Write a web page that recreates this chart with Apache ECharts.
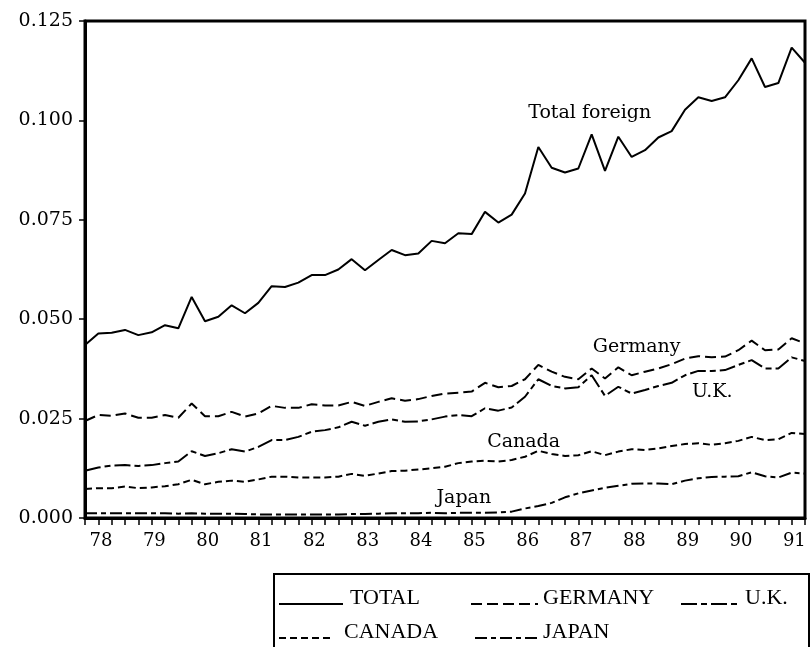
<!DOCTYPE html>
<html><head><meta charset="utf-8">
<script src="https://cdn.jsdelivr.net/npm/echarts@6/dist/echarts.min.js"></script>
<style>html,body{margin:0;padding:0;background:#fff}#c{width:811px;height:647px}</style>
</head><body><div id="c"></div>
<script>
const quarters = [
 '1978Q2','1978Q3','1978Q4',
 '1979Q1','1979Q2','1979Q3','1979Q4',
 '1980Q1','1980Q2','1980Q3','1980Q4',
 '1981Q1','1981Q2','1981Q3','1981Q4',
 '1982Q1','1982Q2','1982Q3','1982Q4',
 '1983Q1','1983Q2','1983Q3','1983Q4',
 '1984Q1','1984Q2','1984Q3','1984Q4',
 '1985Q1','1985Q2','1985Q3','1985Q4',
 '1986Q1','1986Q2','1986Q3','1986Q4',
 '1987Q1','1987Q2','1987Q3','1987Q4',
 '1988Q1','1988Q2','1988Q3','1988Q4',
 '1989Q1','1989Q2','1989Q3','1989Q4',
 '1990Q1','1990Q2','1990Q3','1990Q4',
 '1991Q1','1991Q2','1991Q3','1991Q4'
];
const total = [
 0.0435,0.0464,0.0466,0.0473,0.0460,0.0467,0.0485,0.0477,0.0556,0.0495,
 0.0506,0.0535,0.0515,0.0541,0.0583,0.0581,0.0592,0.0611,0.0611,0.0625,
 0.0651,0.0623,0.0649,0.0674,0.0661,0.0665,0.0697,0.0691,0.0716,0.0714,
 0.0770,0.0743,0.0763,0.0816,0.0933,0.0881,0.0869,0.0879,0.0965,0.0873,
 0.0959,0.0908,0.0925,0.0957,0.0973,0.1027,0.1058,0.1049,0.1058,0.1101,
 0.1156,0.1084,0.1094,0.1183,0.1145
];
const germany = [
 0.0244,0.0259,0.0257,0.0263,0.0252,0.0252,0.0259,0.0252,0.0288,0.0256,
 0.0256,0.0267,0.0255,0.0263,0.0282,0.0277,0.0277,0.0286,0.0283,0.0283,
 0.0292,0.0282,0.0292,0.0301,0.0295,0.0299,0.0307,0.0313,0.0315,0.0318,
 0.0340,0.0329,0.0332,0.0349,0.0385,0.0368,0.0355,0.0349,0.0376,0.0351,
 0.0379,0.0359,0.0368,0.0376,0.0387,0.0401,0.0407,0.0404,0.0406,0.0422,
 0.0446,0.0422,0.0424,0.0452,0.0439
];
const uk = [
 0.0119,0.0127,0.0132,0.0133,0.0131,0.0133,0.0138,0.0142,0.0168,0.0156,
 0.0163,0.0173,0.0167,0.0179,0.0196,0.0196,0.0204,0.0217,0.0221,0.0228,
 0.0242,0.0232,0.0242,0.0248,0.0242,0.0243,0.0248,0.0255,0.0259,0.0256,
 0.0276,0.0270,0.0278,0.0305,0.0349,0.0332,0.0326,0.0329,0.0359,0.0307,
 0.0330,0.0313,0.0322,0.0332,0.0340,0.0359,0.0370,0.0370,0.0372,0.0385,
 0.0397,0.0376,0.0376,0.0404,0.0395
];
const canada = [
 0.0073,0.0075,0.0075,0.0079,0.0075,0.0077,0.0080,0.0085,0.0096,0.0085,
 0.0091,0.0094,0.0091,0.0097,0.0104,0.0104,0.0102,0.0102,0.0102,0.0104,
 0.0111,0.0106,0.0112,0.0118,0.0119,0.0122,0.0125,0.0129,0.0138,0.0142,
 0.0144,0.0142,0.0146,0.0154,0.0169,0.0161,0.0156,0.0158,0.0168,0.0158,
 0.0167,0.0173,0.0171,0.0175,0.0181,0.0186,0.0188,0.0184,0.0188,0.0194,
 0.0204,0.0196,0.0198,0.0214,0.0211
];
const japan = [
 0.0012,0.0012,0.0012,0.0012,0.0012,0.0012,0.0012,0.0011,0.0012,0.0011,
 0.0011,0.0011,0.0010,0.0009,0.0009,0.0009,0.0009,0.0009,0.0009,0.0009,
 0.0010,0.0010,0.0011,0.0012,0.0012,0.0012,0.0013,0.0012,0.0013,0.0013,
 0.0013,0.0014,0.0016,0.0024,0.0030,0.0038,0.0052,0.0062,0.0069,0.0076,
 0.0081,0.0086,0.0087,0.0087,0.0085,0.0094,0.0100,0.0103,0.0104,0.0105,
 0.0115,0.0105,0.0102,0.0114,0.0112
];
const yearLabels = ['78','79','80','81','82','83','84','85','86','87','88','89','90','91'];
const yTickLabels = ['0.000','0.025','0.050','0.075','0.100','0.125'];
const seriesNames = ['TOTAL','GERMANY','U.K.','CANADA','JAPAN'];
const annotations = [
 {text:'Total foreign', t:1986.56, v:0.1018},
 {text:'Germany', t:1987.77, v:0.0431},
 {text:'U.K.', t:1989.63, v:0.0318},
 {text:'Canada', t:1985.79, v:0.0192},
 {text:'Japan', t:1984.84, v:0.0050}
];

const xs = quarters.map(q => +q.slice(0,4) + (+q.slice(5) - 1) / 4);
const labelPos = yearLabels.map(y => 1900 + (+y) + 0.55);
const pair = arr => arr.map((v,i) => [xs[i], v]);

const chart = echarts.init(document.getElementById('c'), null, {renderer:'canvas'});
const dashes = {
 'TOTAL':null,
 'GERMANY':[11,5],
 'U.K.':[16,4,6,4],
 'CANADA':[7,4],
 'JAPAN':[12,4,5,4]
};
const values = {'TOTAL':total,'GERMANY':germany,'U.K.':uk,'CANADA':canada,'JAPAN':japan};
chart.setOption({
  animation:false,
  backgroundColor:'#fff',
  grid:{left:85, right:6, top:21, bottom:129, show:true, borderColor:'#000', borderWidth:3, backgroundColor:'transparent'},
  xAxis:{
    type:'value', min:xs[0], max:xs[xs.length-1],
    axisLine:{show:true, onZero:false, lineStyle:{color:'#000', width:3}},
    axisTick:{show:true, inside:false, length:7, customValues:xs, lineStyle:{color:'#000', width:1.5}},
    axisLabel:{customValues:labelPos, margin:14, color:'#000', fontFamily:'DejaVu Serif', fontSize:18,
      formatter:function(v){ const i = labelPos.findIndex(p => Math.abs(p - v) < 1e-6); return i >= 0 ? yearLabels[i] : ''; }},
    splitLine:{show:false}
  },
  yAxis:{
    type:'value', min:0, max:0.125, interval:0.025,
    axisLine:{show:true, lineStyle:{color:'#000', width:3}},
    axisTick:{show:true, inside:false, length:6, lineStyle:{color:'#000', width:1.5}},
    axisLabel:{margin:12, color:'#000', fontFamily:'DejaVu Serif', fontSize:19,
      formatter:function(v){ return yTickLabels[Math.round(v/0.025)]; }},
    splitLine:{show:false}
  },
  series: seriesNames.map(n => ({
    name:n, type:'line', data:pair(values[n]), symbol:'none', smooth:false,
    lineStyle:{color:'#000', width:2, type:dashes[n] || 'solid'}, itemStyle:{color:'#000'},
    emphasis:{disabled:true}
  }))
});

// legend box drawn with graphic elements (line samples + text)
const legendItems = [
 {name:'TOTAL', x1:279, x2:343, tx:350, y:598},
 {name:'GERMANY', x1:471, x2:538, tx:543, y:598},
 {name:'U.K.', x1:681, x2:741, tx:745, y:598},
 {name:'CANADA', x1:279, x2:334, tx:344, y:632},
 {name:'JAPAN', x1:475, x2:538, tx:543, y:632}
];
const g = [{type:'rect', shape:{x:274, y:574, width:535, height:80},
  style:{fill:'none', stroke:'#000', lineWidth:2}, silent:true}];
legendItems.forEach(it => {
  g.push({type:'line', silent:true, shape:{x1:it.x1, y1:it.y+6, x2:it.x2, y2:it.y+6},
    style:{stroke:'#000', lineWidth:2, lineDash:dashes[it.name] || null}});
  g.push({type:'text', x:it.tx, y:it.y, silent:true,
    style:{text:it.name, fontFamily:'Liberation Serif', fontSize:22, fill:'#000', verticalAlign:'middle', align:'left'}});
});
annotations.forEach(a => {
  const p = chart.convertToPixel({gridIndex:0}, [a.t, a.v]);
  g.push({type:'text', x:p[0], y:p[1], silent:true,
    style:{text:a.text, fontFamily:'DejaVu Serif', fontSize:19, fill:'#000', verticalAlign:'middle', align:'left'}});
});
chart.setOption({graphic:g});
</script>
</body></html>
